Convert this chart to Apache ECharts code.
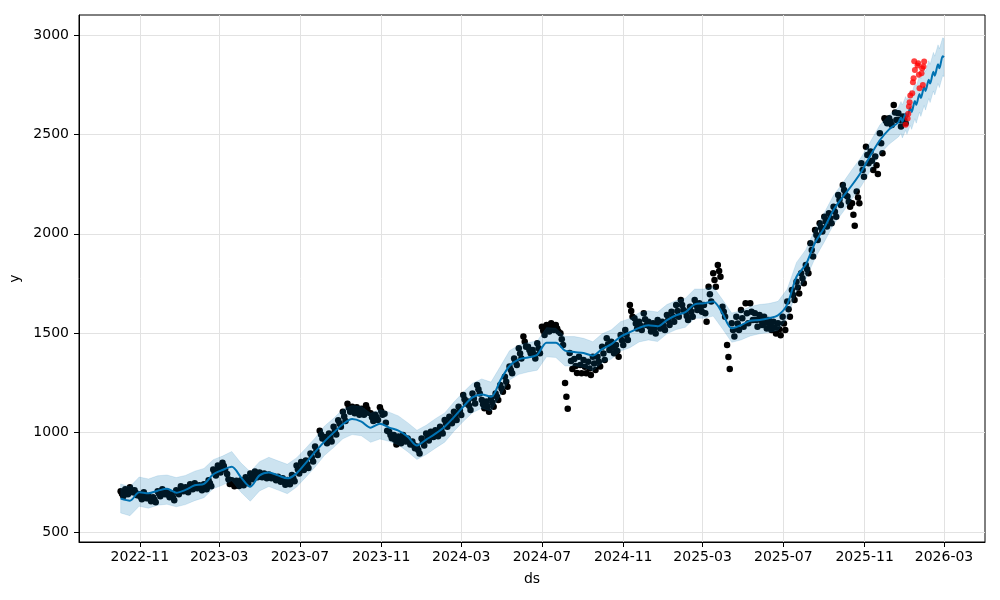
<!DOCTYPE html>
<html><head><meta charset="utf-8">
<script src="https://cdn.jsdelivr.net/npm/echarts@6/dist/echarts.min.js"></script>
<style>html,body{margin:0;padding:0;background:#fff}#c{width:1000px;height:600px}</style>
</head><body><div id="c"></div>
<script>
// ---- tick labels ----
const xTickLabels = ['2022-11','2023-03','2023-07','2023-11','2024-03','2024-07','2024-11','2025-03','2025-07','2025-11','2026-03'];
const yTicks = [500,1000,1500,2000,2500,3000];

// ---- observed (black) points, weeks starting Monday 2022-10-03 ----
// actualHiLo: per week [Monday reading, Friday reading]; actualMid: Wednesday reading
const actualStart = '2022-10-03';
const actualHiLo = [
705,680, 715,690, 725,700, 710,685, 690,665, 700,670, 680,655, 675,650, 705,680, 715,690,
700,675, 690,660, 710,690, 730,705, 725,700, 740,715, 745,720, 735,710, 740,715, 760,730,
815,785, 835,800, 848,815, 792,742, 760,730, 758,732, 760,735, 775,745, 795,765, 805,775,
800,775, 795,770, 790,770, 780,760, 778,753, 770,738, 762,740, 787,755, 835,795, 852,812,
860,822, 895,855, 930,888, 1010,970, 978,946, 995,955, 1030,990, 1062,1030, 1105,1058, 1145,1105,
1130,1098, 1128,1090, 1120,1090, 1138,1100, 1097,1058, 1090,1064, 1128,1090, 1095,1010, 1005,972, 988,940,
980,946, 988,955, 970,940, 955,922, 930,895, 970,935, 996,960, 1005,978, 1012,982, 1030,996,
1063,1030, 1080,1047, 1105,1063, 1130,1089, 1189,1147, 1156,1114, 1197,1147, 1239,1197, 1164,1122, 1156,1105,
1172,1130, 1197,1164, 1239,1206, 1281,1231, 1332,1298, 1373,1340, 1424,1373, 1483,1432, 1432,1399, 1415,1373,
1449,1399, 1533,1491, 1541,1508, 1550,1516, 1541,1508, 1500,1440, 1250,1120, 1400,1320, 1370,1300, 1382,1298,
1365,1298, 1357,1290, 1382,1315, 1382,1332, 1432,1365, 1474,1415, 1457,1399, 1440,1382, 1491,1440, 1516,1466,
1642,1583, 1575,1524, 1558,1516, 1600,1541, 1558,1508, 1550,1499, 1566,1524, 1558,1516, 1591,1541, 1608,1558,
1642,1583, 1667,1617, 1608,1566, 1633,1583, 1667,1617, 1650,1608, 1642,1558, 1734,1659, 1801,1734, 1843,1784,
1633,1583, 1440,1320, 1550,1483, 1583,1516, 1617,1533, 1650,1550, 1650,1566, 1600,1533, 1591,1541, 1583,1524,
1566,1516, 1558,1499, 1550,1490, 1583,1516, 1659,1583, 1717,1667, 1759,1700, 1801,1751, 1843,1801, 1952,1885,
2019,1969, 2053,2011, 2086,2036, 2103,2053, 2136,2086, 2195,2145, 2245,2195, 2187,2136, 2153,2040, 2212,2153,
2354,2287, 2438,2354, 2413,2321, 2388,2300, 2505,2405, 2581,2556, 2581,2547, 2648,2572, 2606,2539, 2589,2556
];
const actualMid = [
692,702,712,697,678,685,668,662,692,702,
688,675,700,718,712,728,732,722,728,745,
800,818,832,765,745,745,748,760,780,790,
788,782,780,770,765,754,751,771,815,832,
841,875,909,990,962,975,1010,1046,1081,1125,
1114,1109,1105,1119,1077,1077,1109,1050,988,964,
963,971,955,938,912,952,978,991,997,1013,
1046,1063,1084,1110,1168,1135,1172,1218,1143,1130,
1151,1180,1222,1256,1315,1356,1398,1457,1415,1394,
1424,1512,1524,1533,1524,1470,1180,1360,1335,1340,
1331,1323,1348,1357,1398,1444,1428,1411,1465,1491,
1612,1549,1537,1570,1533,1524,1545,1537,1566,1583,
1612,1642,1587,1608,1642,1629,1600,1696,1767,1813,
1608,1380,1516,1549,1575,1600,1608,1566,1566,1553,
1541,1528,1520,1549,1621,1692,1730,1776,1822,1918,
1994,2032,2061,2078,2111,2170,2220,2161,2096,2182,
2320,2396,2367,2344,2455,2568,2564,2610,2572,2572
];

// ---- forecast (history part: every 14 days from 2022-10-03) ----
const forecastStart = '2022-10-03';
const yhatHist = [668,658,700,695,708,718,698,712,735,742,790,812,828,775,728,785,800,785,770,795,
848,903,955,1000,1042,1068,1055,1025,1045,1025,1010,980,935,965,995,1030,1078,1130,1177,1192,
1180,1262,1335,1368,1378,1392,1452,1452,1412,1405,1400,1387,1420,1445,1483,1505,1527,1540,1535,1566,
1590,1606,1645,1650,1659,1600,1525,1540,1563,1566,1575,1590,1645,1784,1845,1955,2030,2120,2185,2245,
2312,2395,2470,2525,2560];
const upperHist = [742,728,777,767,783,787,774,785,806,820,864,882,905,847,803,854,876,858,841,873,
922,973,1032,1072,1117,1137,1131,1098,1116,1103,1084,1050,1012,1037,1070,1099,1154,1203,1248,1270,
1254,1332,1412,1440,1453,1461,1528,1525,1483,1483,1474,1457,1497,1517,1558,1574,1603,1613,1606,1644,
1664,1676,1722,1722,1734,1669,1601,1613,1634,1644,1649,1660,1722,1856,1920,2024,2106,2193,2256,2323,
2386,2465,2547,2597,2635];
const lowerHist = [596,582,630,620,635,640,627,638,658,673,718,736,758,700,655,707,729,711,693,726,
776,827,885,925,969,990,984,951,968,956,938,904,865,890,922,952,1007,1056,1100,1123,
1108,1186,1265,1293,1305,1314,1381,1378,1335,1336,1328,1311,1350,1370,1410,1427,1456,1466,1458,1497,
1518,1530,1575,1575,1586,1522,1454,1466,1486,1497,1503,1514,1575,1709,1772,1877,1959,2046,2108,2176,
2240,2319,2400,2450,2487];

// ---- forecast (future part) ----
const futureDates = ['2025-12-26','2025-12-28','2026-01-02','2026-01-04','2026-01-09','2026-01-11','2026-01-16','2026-01-18','2026-01-23','2026-01-25',
'2026-01-30','2026-02-01','2026-02-06','2026-02-08','2026-02-13','2026-02-15','2026-02-20','2026-02-22','2026-02-27','2026-03-01'];
const futureYhat  = [2585,2565,2605,2585,2632,2612,2668,2648,2703,2683,2738,2718,2775,2755,2815,2795,2852,2832,2893,2888];
const futureUpper = [2665,2648,2690,2672,2722,2702,2758,2742,2795,2778,2832,2815,2870,2852,2912,2893,2950,2930,2985,2982];
const futureLower = [2505,2482,2520,2500,2545,2525,2578,2556,2612,2590,2645,2622,2680,2660,2718,2698,2755,2735,2795,2790];

// ---- test (red) points ----
const testDates = ['2026-01-02','2026-01-05','2026-01-06','2026-01-07','2026-01-08','2026-01-09','2026-01-12','2026-01-13','2026-01-14','2026-01-15',
'2026-01-16','2026-01-20','2026-01-21','2026-01-22','2026-01-23','2026-01-26','2026-01-27','2026-01-28','2026-01-29','2026-01-30'];
const testValues = [2548,2580,2603,2640,2661,2695,2707,2762,2782,2867,2824,2846,2857,2799,2732,2807,2832,2748,2841,2866];

// ---- helpers ----
function ts(s, addDays){ const p = s.split('-').map(Number); return new Date(p[0], p[1]-1, (p[2]||1) + (addDays||0)).getTime(); }
const actualData = [];
actualMid.forEach((mid, k)=>{
  actualData.push([ts(actualStart, 7*k), actualHiLo[2*k]]);
  actualData.push([ts(actualStart, 7*k+2), mid]);
  actualData.push([ts(actualStart, 7*k+4), actualHiLo[2*k+1]]);
});
const fcDates = yhatHist.map((_,j)=>ts(forecastStart, 14*j)).concat(futureDates.map(s=>ts(s)));
const yhat = yhatHist.concat(futureYhat);
const upper = upperHist.concat(futureUpper);
const lower = lowerHist.concat(futureLower);
const testData = testDates.map((s,i)=>[ts(s), testValues[i]]);
const xTickVals = xTickLabels.map(s=>ts(s));
const labelMap = {}; xTickVals.forEach((v,i)=>labelMap[v]=xTickLabels[i]);

const font = 'DejaVu Sans';
const chart = echarts.init(document.getElementById('c'), null, {renderer:'canvas'});
chart.setOption({
  animation:false,
  backgroundColor:'#fff',
  grid:{left:79, right:15, top:15, bottom:58, show:true, borderColor:'#000', borderWidth:1, containLabel:false},
  xAxis:{
    type:'value', min: ts('2022-08-01'), max: ts('2026-05-02'), scale:true,
    axisLine:{show:true, onZero:false, lineStyle:{color:'#000', width:1}},
    axisTick:{show:true, length:5, inside:false, lineStyle:{color:'#000'}, customValues:xTickVals},
    axisLabel:{customValues:xTickVals, color:'#000', fontSize:14, fontFamily:font, margin:8,
      formatter:(v)=>labelMap[v] || ''},
    splitLine:{show:true, lineStyle:{color:'#e2e2e2', width:1}},
    name:'ds', nameLocation:'middle', nameGap:30, nameTextStyle:{color:'#000', fontSize:14, fontFamily:font}
  },
  yAxis:{
    type:'value', min:450, max:3100,
    axisLine:{show:true, onZero:false, lineStyle:{color:'#000', width:1}},
    axisTick:{show:true, length:5, lineStyle:{color:'#000'}, customValues:yTicks},
    axisLabel:{customValues:yTicks, color:'#000', fontSize:14, fontFamily:font, margin:10,
      formatter:(v)=>String(v)},
    splitLine:{show:true, lineStyle:{color:'#e2e2e2', width:1}},
    name:'y', nameLocation:'middle', nameGap:53, nameRotate:90,
    nameTextStyle:{color:'#000', fontSize:14, fontFamily:font}
  },
  series:[
    {type:'scatter', data:actualData, symbolSize:6.5, itemStyle:{color:'#000', opacity:1}, z:1, silent:true},
    {type:'line', data:fcDates.map((d,i)=>[d,yhat[i]]), showSymbol:false, smooth:0.3,
      lineStyle:{color:'#0072B2', width:2}, itemStyle:{color:'#0072B2'}, z:2, silent:true},
    {type:'custom', data:[[fcDates[0], upper[0]]], z:3, silent:true,
      renderItem:(params, api)=>{
        const pts = [];
        for (let i=0;i<fcDates.length;i++) pts.push(api.coord([fcDates[i], upper[i]]));
        for (let i=fcDates.length-1;i>=0;i--) pts.push(api.coord([fcDates[i], lower[i]]));
        return {type:'polygon', shape:{points:pts}, style:{fill:'rgba(0,114,178,0.2)', stroke:'rgba(0,114,178,0.12)', lineWidth:1}};
      }},
    {type:'scatter', data:testData, symbolSize:6, itemStyle:{color:'rgba(255,0,0,0.75)', opacity:1}, z:4, silent:true}
  ]
});
</script>
</body></html>
